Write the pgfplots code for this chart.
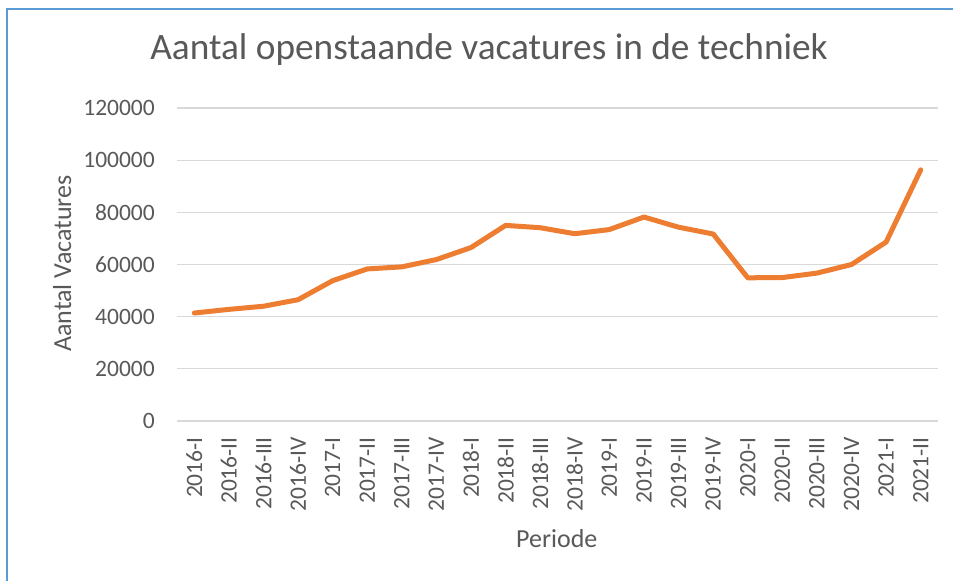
\documentclass[border=0pt]{standalone}
\usepackage{pgfplots}
\pgfplotsset{compat=1.18}
\usepackage{fontspec}
\setmainfont{Carlito}
\definecolor{txt}{HTML}{595959}
\definecolor{ora}{HTML}{ED7D31}
\definecolor{grd}{HTML}{D9D9D9}
\definecolor{frm}{HTML}{5B9BD5}
\begin{document}
\begin{tikzpicture}[x=1bp,y=1bp]
\useasboundingbox (0,0) rectangle (953,-581);
\draw[frm, line width=2bp] (7,-582) -- (7,-9.5) -- (954,-9.5);
\begin{axis}[
  at={(177bp,-421bp)}, anchor=south west,
  scale only axis, width=761bp, height=313bp,
  xmin=-0.5, xmax=21.5, ymin=0, ymax=120000,
  xtick={0,...,21},
  xticklabels={2016-I,2016-II,2016-III,2016-IV,2017-I,2017-II,2017-III,2017-IV,2018-I,2018-II,2018-III,2018-IV,2019-I,2019-II,2019-III,2019-IV,2020-I,2020-II,2020-III,2020-IV,2021-I,2021-II},
  ytick={0,20000,40000,60000,80000,100000,120000},
  yticklabels={0,20000,40000,60000,80000,100000,120000},
  scaled y ticks=false,
  axis line style={draw=none},
  major tick length=0pt,
  ymajorgrids, grid style={grd, line width=1.3bp},
  ticklabel style={font=\fontsize{23.5bp}{28bp}\selectfont, text=txt},
  yticklabel style={anchor=east, inner sep=0pt, xshift=-22bp},
  xticklabel style={rotate=90, anchor=east, inner sep=0pt, xshift=-16bp},
  title={Aantal openstaande vacatures in de techniek},
  title style={at={(axis description cs:0.41,1.169)}, anchor=center, font=\fontsize{37.3bp}{44bp}\selectfont, text=txt},
  xlabel={Periode},
  xlabel style={at={(axis description cs:0.499,-0.374)}, anchor=center, font=\fontsize{26bp}{31bp}\selectfont, text=txt},
  ylabel={Aantal Vacatures},
  ylabel style={at={(axis description cs:-0.151,0.503)}, anchor=center, font=\fontsize{26bp}{31bp}\selectfont, text=txt},
  clip=false,
]
\addplot[ora, line width=5bp, line join=round, line cap=round] coordinates {
(0,41400) (1,42800) (2,44000) (3,46500) (4,53800) (5,58300) (6,59100) (7,61900)
(8,66500) (9,75000) (10,74100) (11,71800) (12,73400) (13,78200) (14,74300) (15,71700)
(16,54900) (17,55000) (18,56700) (19,60000) (20,68600) (21,96300)
};
\end{axis}
\end{tikzpicture}
\end{document}
